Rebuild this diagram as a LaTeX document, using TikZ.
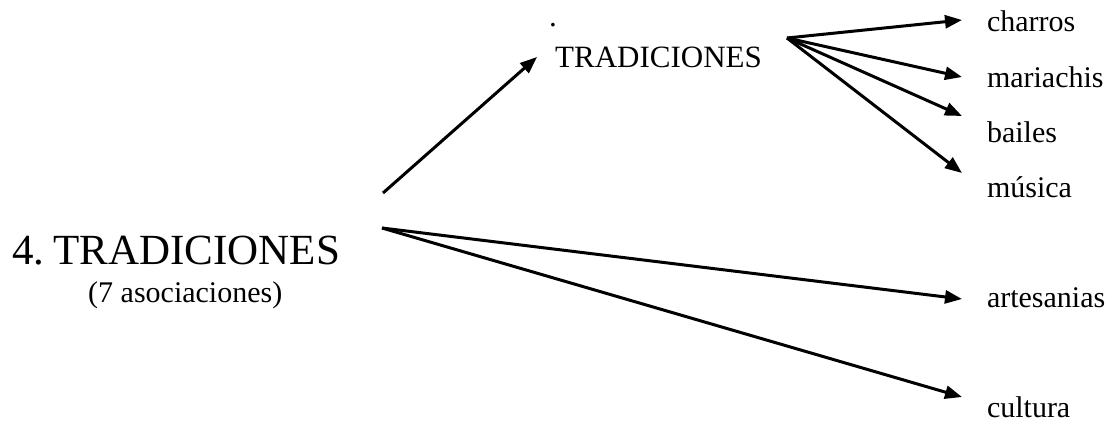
\documentclass[tikz,border=0pt]{standalone}
\usepackage{fontspec}
\setmainfont{Liberation Serif}
\usetikzlibrary{arrows.meta}
\begin{document}
\begin{tikzpicture}[x=1pt,y=-1pt,
  lbl/.style={anchor=base west,inner sep=0pt,outer sep=0pt,font=\fontsize{30}{32}\selectfont},
  arr/.style={line width=3pt,-{Triangle[length=17pt,width=13pt]}}]
\useasboundingbox (0,0) rectangle (1117,425);
% main nodes
\node[anchor=base west,inner sep=0pt,font=\fontsize{43}{46}\selectfont] (main) at (12,264) {4.\kern9pt TRADICIONES};
\node[anchor=base west,inner sep=0pt,font=\fontsize{30}{32}\selectfont] (sub) at (88,302) {(7 asociaciones)};
\node[anchor=base west,inner sep=0pt,font=\fontsize{31}{33}\selectfont] (dot) at (549,27) {.};
\node[anchor=base west,inner sep=0pt,font=\fontsize{31}{33}\selectfont] (trad) at (555,68) {TRADICIONES};
% leaves
\node[lbl] (charros) at (987,32) {charros};
\node[lbl] (mariachis) at (987,88) {mariachis};
\node[lbl] (bailes) at (987,143) {bailes};
\node[lbl] (musica) at (987,197) {música};
\node[lbl] (artesanias) at (987,307) {artesanias};
\node[lbl] (cultura) at (987,417) {cultura};
% connector ends
\coordinate (mainUp) at (383,193);
\coordinate (mainDown) at (382,228);
\coordinate (tradIn) at (537,57);
\coordinate (tradOut) at (787,38);
\coordinate (charrosIn) at (962,20);
\coordinate (mariachisIn) at (962,77);
\coordinate (bailesIn) at (962,116);
\coordinate (musicaIn) at (962,173);
\coordinate (artesaniasIn) at (962,299);
\coordinate (culturaIn) at (962,397);
% connectors
\draw[arr] (mainUp) -- (tradIn);
\draw[arr] (tradOut) -- (charrosIn);
\draw[arr] (tradOut) -- (mariachisIn);
\draw[arr] (tradOut) -- (bailesIn);
\draw[arr] (tradOut) -- (musicaIn);
\draw[arr] (mainDown) -- (artesaniasIn);
\draw[arr] (mainDown) -- (culturaIn);
\end{tikzpicture}
\end{document}
